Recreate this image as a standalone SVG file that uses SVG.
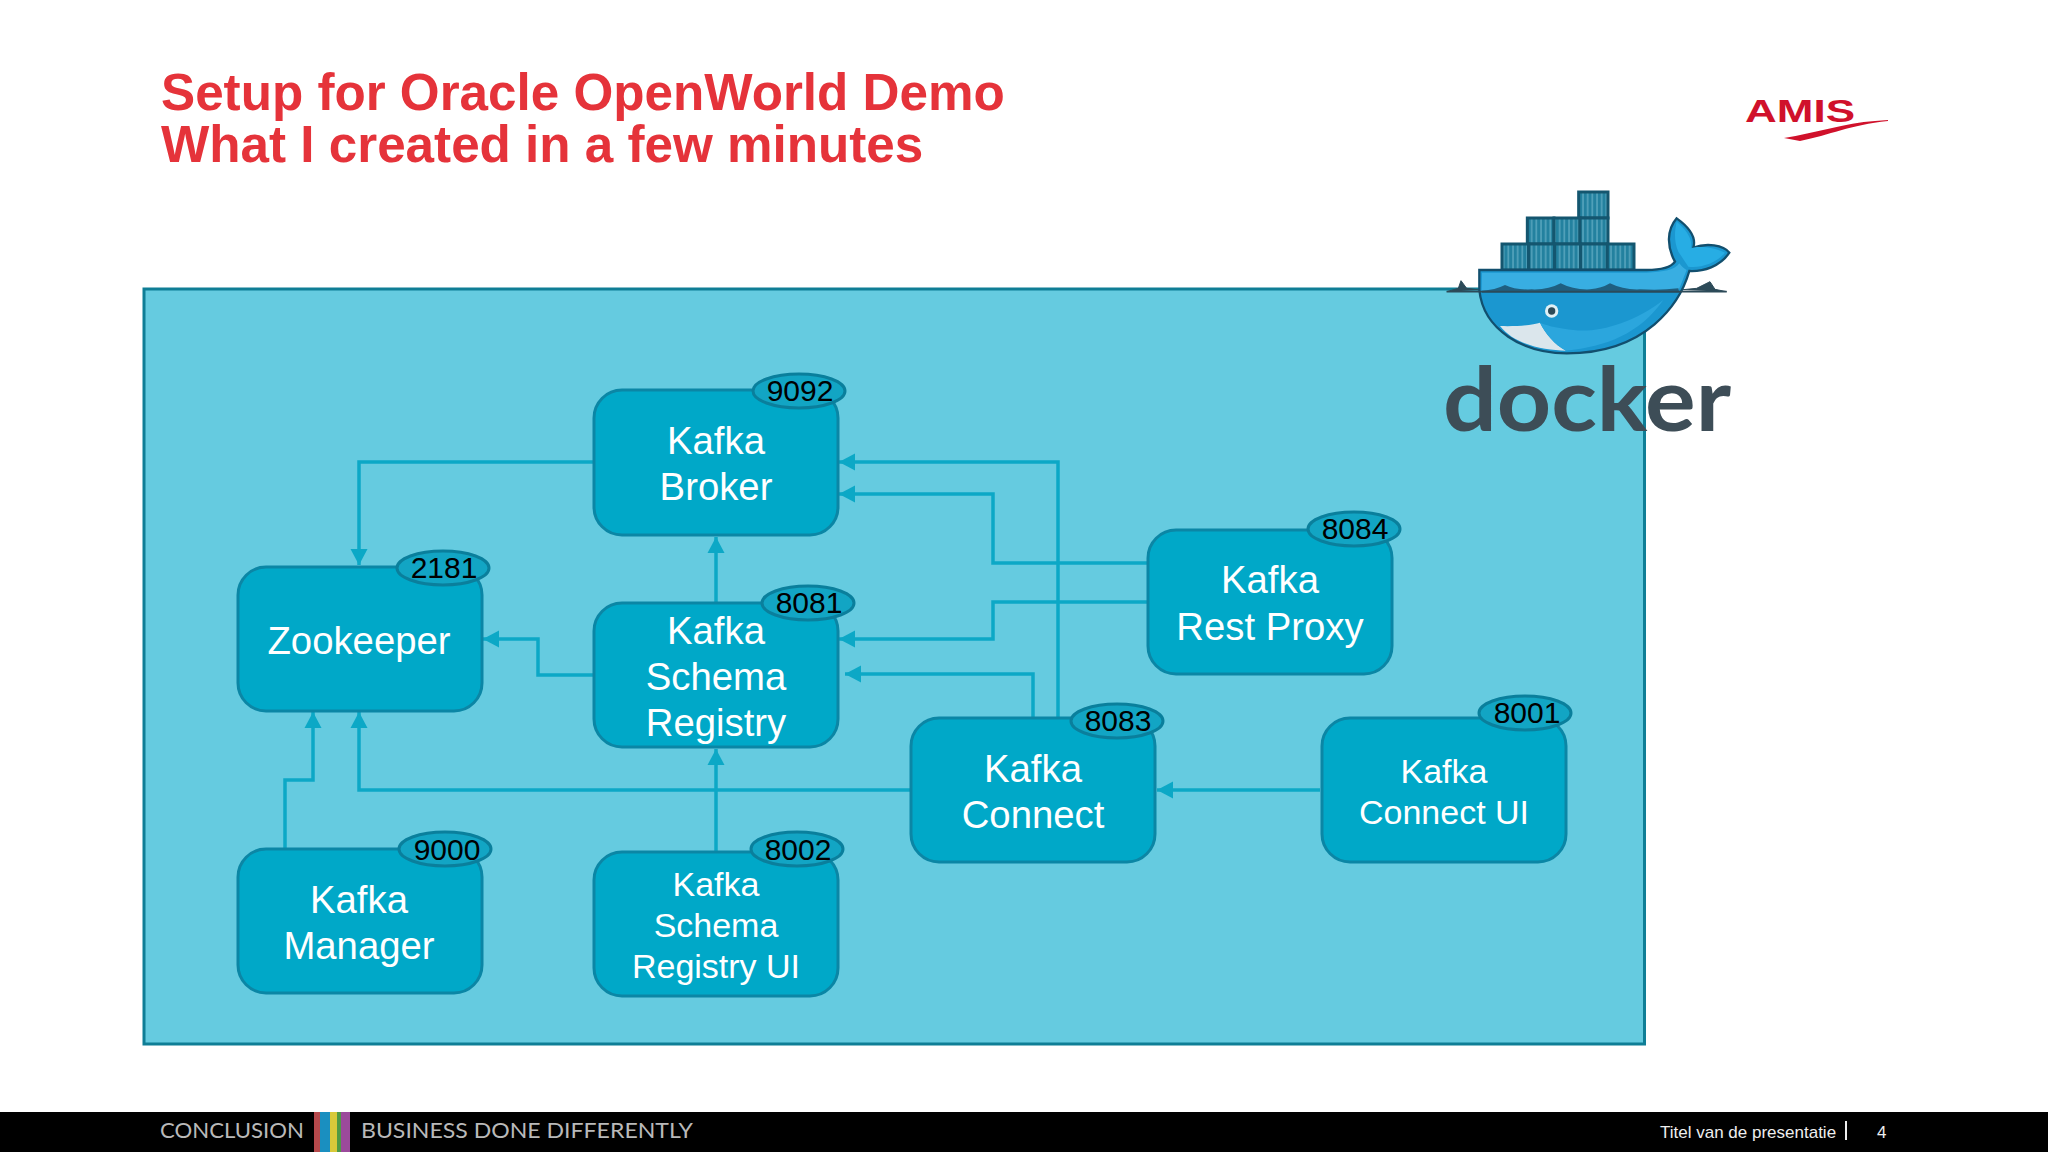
<svg xmlns="http://www.w3.org/2000/svg" width="2048" height="1152" viewBox="0 0 2048 1152">
<style>
text{font-family:"Liberation Sans",Arial,sans-serif}
.box{fill:#00a8c8;stroke:#0b86a5;stroke-width:3}
.lbl{fill:#fff;font-size:38.300px;text-anchor:middle}
.sm{font-size:34px}
.bdg{fill:#12a5c4;stroke:#0a7f9c;stroke-width:3}
.port{fill:#000;font-size:30px;text-anchor:middle}
.cn{fill:none;stroke:#0ca8c6;stroke-width:3.500}
.ti{fill:#e5333a;font-size:51.200px;font-weight:bold}
.ft{fill:#b9b9b9;font-family:"Lato","Open Sans",sans-serif;font-size:21px}
.fr{fill:#eee;font-size:17px}
</style>
<defs>
<marker id="ah" markerUnits="userSpaceOnUse" markerWidth="17" markerHeight="19" refX="16" refY="9.500" orient="auto"><path d="M0,1 L16,9.500 L0,18 Z" fill="#0ca8c6"/></marker>
<pattern id="st" width="14" height="14" patternUnits="userSpaceOnUse"><rect width="14" height="14" fill="#23819f"/><rect x="1" width="4" height="14" fill="#5eaac2"/></pattern>
</defs>
<rect width="2048" height="1152" fill="#fff"/>
<text class="ti" x="161" y="110">Setup for Oracle OpenWorld Demo</text>
<text class="ti" x="161" y="162">What I created in a few minutes</text>
<g id="amis">
<text x="1745" y="122" textLength="110" lengthAdjust="spacingAndGlyphs" font-size="32" font-weight="bold" fill="#d0112b">AMIS</text>
<path d="M1784,138 C1815,133 1845,123 1875,121 L1888,120 L1888,121 C1850,125 1830,135 1800,141 Z" fill="#d0112b"/>
</g>
<rect id="docker-host" x="144" y="289" width="1500.500" height="755" fill="#65cbe0" stroke="#0f7e96" stroke-width="3"/>
<g id="docker-logo">
<g transform="translate(1400,70) scale(0.33333)">
<path d="M140,665 L175,655 L183,632 L200,655 L240,660 M840,660 L890,655 L930,635 L945,658 L980,665" fill="#2c4a58" stroke="#2c4a58" stroke-width="3"/>
<g style="fill:url(#st)" stroke="#14566f" stroke-width="9">
<rect x="536" y="366" width="88" height="78"/>
<rect x="382" y="444" width="80" height="78"/><rect x="462" y="444" width="78" height="78"/><rect x="540" y="444" width="84" height="78"/>
<rect x="306" y="522" width="80" height="78"/><rect x="386" y="522" width="78" height="78"/><rect x="464" y="522" width="78" height="78"/><rect x="542" y="522" width="80" height="78"/><rect x="622" y="522" width="80" height="78"/>
</g>
<path d="M238,600 H740 C785,600 815,590 825,575 C800,530 800,480 830,445 C865,470 890,500 880,533 C920,518 970,525 988,548 C960,590 910,605 868,603 C840,700 740,850 500,850 C370,850 250,780 238,660 Z" fill="#1b97d0" stroke="#124f6e" stroke-width="7"/>
<path d="M246,608 H740 C790,606 825,600 838,580 C845,590 852,595 860,600 C850,625 845,640 835,662 H245 Z" fill="#38aee2"/>
<path d="M835,545 C820,510 825,480 830,455 C860,480 880,510 872,535 C880,530 930,525 975,548 C950,580 900,595 865,590 Z" fill="#27ade4"/>
<path d="M246,662 Q285,660 315,645 Q345,660 395,658 Q445,660 482,640 Q520,660 570,658 Q605,655 630,640 Q670,660 720,658 Q780,662 835,655 L838,668 H246 Z" fill="#1f5f80"/>
<path d="M140,665 H980" stroke="#2c4a58" stroke-width="5"/>
<path d="M300,768 C350,770 400,765 420,758 C435,790 465,825 498,842 C430,840 345,825 300,768 Z" fill="#dbe6ec"/>
<path d="M420,758 C435,790 465,825 498,842 C620,830 720,790 790,690 C700,760 590,790 520,780 C480,775 450,770 420,758 Z" fill="#2ba6dd"/>
<circle cx="455" cy="723" r="20" fill="#dff0f5"/><circle cx="455" cy="723" r="11" fill="#2c4a58"/>
</g>
<text x="1443" y="431" textLength="288" lengthAdjust="spacingAndGlyphs" font-size="88" font-weight="700" fill="#3d4d57" style="font-family:Lato,'Open Sans',sans-serif">docker</text>
</g>
<g id="connectors">
<path class="cn" marker-end="url(#ah)" d="M593,462 H359 V565"/>
<path class="cn" marker-end="url(#ah)" d="M1147,563 H993 V494 H839"/>
<path class="cn" marker-end="url(#ah)" d="M1147,602 H993 V639 H839"/>
<path class="cn" marker-end="url(#ah)" d="M1058,717 V462 H839"/>
<path class="cn" marker-end="url(#ah)" d="M1033,717 V674 H845"/>
<path class="cn" marker-end="url(#ah)" d="M716,602 V537"/>
<path class="cn" marker-end="url(#ah)" d="M593,675 H538 V639 H483"/>
<path class="cn" marker-end="url(#ah)" d="M910,790 H359 V712"/>
<path class="cn" marker-end="url(#ah)" d="M1320,790 H1157"/>
<path class="cn" marker-end="url(#ah)" d="M285,849 V780 H313 V712"/>
<path class="cn" marker-end="url(#ah)" d="M716,851 V749"/>
</g>
<g id="kafka-broker"><rect class="box" x="594" y="390" width="244" height="145" rx="28"/><ellipse class="bdg" cx="799" cy="391" rx="46" ry="17"/><text class="port" x="800" y="401">9092</text><text class="lbl" x="716" y="454">Kafka</text><text class="lbl" x="716" y="500">Broker</text></g>
<g id="zookeeper"><rect class="box" x="238" y="567" width="244" height="144" rx="28"/><ellipse class="bdg" cx="443" cy="568" rx="46" ry="17"/><text class="port" x="444" y="578">2181</text><text class="lbl" x="359" y="654">Zookeeper</text></g>
<g id="schema-registry"><rect class="box" x="594" y="603" width="244" height="144" rx="28"/><ellipse class="bdg" cx="808" cy="603" rx="46" ry="17"/><text class="port" x="809" y="613">8081</text><text class="lbl" x="716" y="644">Kafka</text><text class="lbl" x="716" y="690">Schema</text><text class="lbl" x="716" y="736">Registry</text></g>
<g id="rest-proxy"><rect class="box" x="1148" y="530" width="244" height="144" rx="28"/><ellipse class="bdg" cx="1354" cy="529" rx="46" ry="17"/><text class="port" x="1355" y="539">8084</text><text class="lbl" x="1270" y="593">Kafka</text><text class="lbl" x="1270" y="640">Rest Proxy</text></g>
<g id="kafka-connect"><rect class="box" x="911" y="718" width="244" height="144" rx="28"/><ellipse class="bdg" cx="1117" cy="721" rx="46" ry="17"/><text class="port" x="1118" y="731">8083</text><text class="lbl" x="1033" y="782">Kafka</text><text class="lbl" x="1033" y="828">Connect</text></g>
<g id="connect-ui"><rect class="box" x="1322" y="718" width="244" height="144" rx="28"/><ellipse class="bdg" cx="1525" cy="713" rx="46" ry="17"/><text class="port" x="1527" y="723">8001</text><text class="lbl sm" x="1444" y="783">Kafka</text><text class="lbl sm" x="1444" y="824">Connect UI</text></g>
<g id="kafka-manager"><rect class="box" x="238" y="849" width="244" height="144" rx="28"/><ellipse class="bdg" cx="445" cy="849" rx="46" ry="17"/><text class="port" x="447" y="860">9000</text><text class="lbl" x="359" y="913">Kafka</text><text class="lbl" x="359" y="959">Manager</text></g>
<g id="schema-registry-ui"><rect class="box" x="594" y="852" width="244" height="144" rx="28"/><ellipse class="bdg" cx="797" cy="849" rx="46" ry="17"/><text class="port" x="798" y="860">8002</text><text class="lbl sm" x="716" y="896">Kafka</text><text class="lbl sm" x="716" y="937">Schema</text><text class="lbl sm" x="716" y="978">Registry UI</text></g>
<g id="footer">
<rect y="1112" width="2048" height="40" fill="#000"/>
<text class="ft" x="160" y="1138" textLength="144" lengthAdjust="spacingAndGlyphs">CONCLUSION</text>
<rect x="314" y="1112" width="6" height="40" fill="#b5494c"/><rect x="320" y="1112" width="10" height="40" fill="#1a8fc0"/><rect x="330" y="1112" width="7" height="40" fill="#d8c93a"/><rect x="337" y="1112" width="4" height="40" fill="#4f9a45"/><rect x="341" y="1112" width="9" height="40" fill="#9b4a9b"/>
<text class="ft" x="361" y="1138" textLength="332" lengthAdjust="spacingAndGlyphs">BUSINESS DONE DIFFERENTLY</text>
<text class="fr" x="1660" y="1138">Titel van de presentatie</text>
<rect x="1845" y="1121" width="2" height="19" fill="#eee"/>
<text class="fr" x="1877" y="1138">4</text>
</g>
</svg>
